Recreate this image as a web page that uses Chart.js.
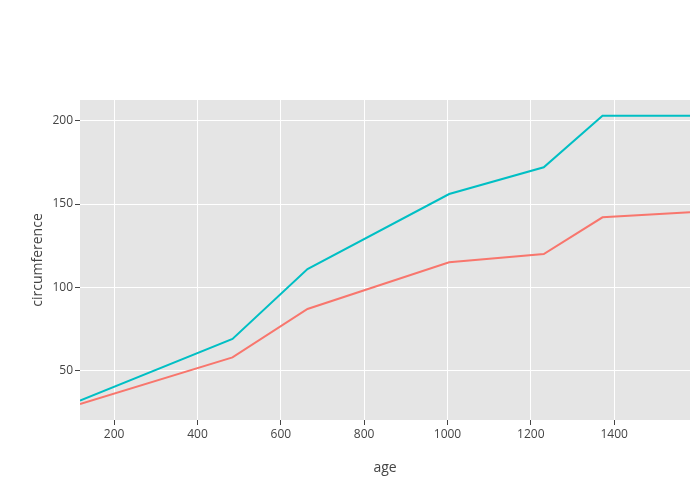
<!DOCTYPE html>
<html>
<head>
<meta charset="utf-8">
<script src="https://cdn.jsdelivr.net/npm/chart.js@4"></script>
<style>
  body { margin: 0; background: #fff; }
  #wrap { width: 700px; height: 500px; }
</style>
</head>
<body>
<div id="wrap"><canvas id="chart" width="700" height="500"></canvas></div>
<script>
const ages = [118, 484, 664, 1004, 1231, 1372, 1582];
const tree1 = [30, 58, 87, 115, 120, 142, 145];
const tree4 = [32, 69, 111, 156, 172, 203, 203];
const xTicks = [200, 400, 600, 800, 1000, 1200, 1400];
const yTicks = [50, 100, 150, 200];

const toPoints = (xs, ys) => xs.map((x, i) => ({ x: x, y: ys[i] }));

// grey plot background like plotly's ggplot theme
const plotBg = {
    id: 'plotBg',
    beforeDraw(chart) {
        const { ctx, chartArea } = chart;
        ctx.save();
        ctx.fillStyle = '#e5e5e5';
        ctx.fillRect(chartArea.left, chartArea.top, chartArea.width, chartArea.height);
        ctx.restore();
    }
};

const tickFont = { family: '"Open Sans", sans-serif', size: 12 };
const titleFont = { family: '"Open Sans", sans-serif', size: 14 };

const config = {
    type: 'line',
    data: {
        datasets: [
            {
                label: '1',
                data: toPoints(ages, tree1),
                borderColor: '#F8766D',
                borderWidth: 2,
                pointRadius: 0,
                tension: 0,
                fill: false
            },
            {
                label: '4',
                data: toPoints(ages, tree4),
                borderColor: '#00BFC4',
                borderWidth: 2,
                pointRadius: 0,
                tension: 0,
                fill: false
            }
        ]
    },
    options: {
        responsive: false,
        animation: false,
        layout: { padding: { top: 100, right: 10, left: 0, bottom: 0 } },
        plugins: {
            legend: { display: false },
            tooltip: { enabled: false }
        },
        scales: {
            x: {
                type: 'linear',
                min: 118,
                max: 1582,
                afterBuildTicks: (axis) => { axis.ticks = xTicks.map((v) => ({ value: v })); },
                afterFit: (axis) => { axis.height = 80; },
                grid: { color: '#ffffff', lineWidth: 1, drawTicks: true, tickLength: 5, tickColor: '#444', tickWidth: 1 },
                border: { display: false },
                ticks: { color: '#444', font: tickFont, padding: 2, maxRotation: 0, callback: (v) => String(v) },
                title: { display: true, text: 'age', color: '#444', font: titleFont, padding: { top: 4, bottom: 24 } }
            },
            y: {
                type: 'linear',
                min: 20.4,
                max: 212.4,
                afterBuildTicks: (axis) => { axis.ticks = yTicks.map((v) => ({ value: v })); },
                afterFit: (axis) => { axis.width = 80; },
                grid: { color: '#ffffff', lineWidth: 1, drawTicks: true, tickLength: 5, tickColor: '#444', tickWidth: 1 },
                border: { display: false },
                ticks: { color: '#444', font: tickFont, padding: 2, callback: (v) => String(v) },
                title: { display: true, text: 'circumference', color: '#444', font: titleFont, padding: { top: 30, bottom: 0 } }
            }
        }
    },
    plugins: [plotBg]
};

new Chart(document.getElementById('chart'), config);
</script>
</body>
</html>
